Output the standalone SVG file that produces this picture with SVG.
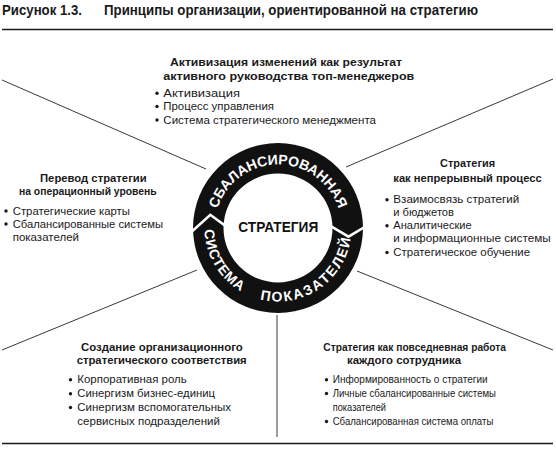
<svg xmlns="http://www.w3.org/2000/svg" xmlns:xlink="http://www.w3.org/1999/xlink" width="556" height="457" viewBox="0 0 556 457">
<style>
text{font-family:"Liberation Sans",Arial,sans-serif;fill:#1a1a1a}
.ttl{font-size:14px;font-weight:bold}
.hd{font-size:11px;font-weight:bold}
.bl{font-size:11px}
.dot{fill:#1a1a1a}
.ln{stroke:#222;stroke-width:0.9;fill:none}
.rule{stroke:#1a1a1a;stroke-width:1.3;fill:none}
.ring{fill:#111;fill-rule:evenodd}
.cut{stroke:#fff;stroke-width:2.6;fill:none;stroke-linejoin:miter}
.rt{font-size:14px;font-weight:bold;fill:#fff}
.ct{font-size:14px;font-weight:bold;fill:#111}
</style>
<defs>
<path id="arcTop" d="M 214.5 228 A 63.5 63.5 0 0 1 341.5 228"/>
<path id="arcBot" d="M 204.5 228 A 73.5 73.5 0 0 0 351.5 228"/>
</defs>
<rect width="556" height="457" fill="#fff"/>

<g id="title">
<text class="ttl" x="2" y="15" textLength="80" lengthAdjust="spacingAndGlyphs">Рисунок 1.3.</text>
<text class="ttl" x="104" y="15" textLength="374" lengthAdjust="spacingAndGlyphs">Принципы организации, ориентированной на стратегию</text>
</g>
<g id="rules">
<line class="rule" x1="2" y1="29.5" x2="553" y2="29.5"/>
<line class="rule" x1="2" y1="443.5" x2="553" y2="443.5"/>
</g>

<g id="connectors">
<line class="ln" x1="2" y1="80" x2="206" y2="169"/>
<line class="ln" x1="553" y1="79" x2="346" y2="167"/>
<line class="ln" x1="2" y1="350" x2="197" y2="270"/>
<line class="ln" x1="357" y1="271" x2="553" y2="350"/>
<line class="ln" x1="277" y1="315" x2="277" y2="437"/>
</g>

<g id="node-center">
<path class="ring" d="M 193 228 A 85 85 0 1 0 363 228 A 85 85 0 1 0 193 228 Z M 223.5 228 A 54.5 54.5 0 1 0 332.5 228 A 54.5 54.5 0 1 0 223.5 228 Z"/>
<polyline class="cut" points="190.5,232.7 210.3,214.8 226.5,226.6"/>
<polyline class="cut" points="365.5,226.5 348.5,236.7 329.5,225.3"/>
<text class="rt"><textPath xlink:href="#arcTop" href="#arcTop" startOffset="50%" text-anchor="middle">СБАЛАНСИРОВАННАЯ</textPath></text>
<text class="rt" letter-spacing="0.8"><textPath xlink:href="#arcBot" href="#arcBot" startOffset="39.5" text-anchor="middle">СИСТЕМА</textPath></text>
<text class="rt" letter-spacing="1.8"><textPath xlink:href="#arcBot" href="#arcBot" startOffset="159.4" text-anchor="middle">ПОКАЗАТЕЛЕЙ</textPath></text>
<text class="ct" x="278.3" y="232" text-anchor="middle" textLength="80" lengthAdjust="spacingAndGlyphs">СТРАТЕГИЯ</text>
</g>

<g id="node-top">
<text class="hd" x="170" y="66" textLength="232" lengthAdjust="spacingAndGlyphs">Активизация изменений как результат</text>
<text class="hd" x="163.3" y="79.5" textLength="251" lengthAdjust="spacingAndGlyphs">активного руководства топ-менеджеров</text>
<circle class="dot" cx="157" cy="93.2" r="1.7"/>
<text class="bl" x="163.3" y="96.7" textLength="76.7" lengthAdjust="spacingAndGlyphs">Активизация</text>
<circle class="dot" cx="157" cy="106.5" r="1.7"/>
<text class="bl" x="163.3" y="110" textLength="110.7" lengthAdjust="spacingAndGlyphs">Процесс управления</text>
<circle class="dot" cx="157" cy="120" r="1.7"/>
<text class="bl" x="163.3" y="123.5" textLength="212.7" lengthAdjust="spacingAndGlyphs">Система стратегического менеджмента</text>
</g>

<g id="node-left">
<text class="hd" x="40" y="181.7" textLength="106.7" lengthAdjust="spacingAndGlyphs">Перевод стратегии</text>
<text class="hd" x="19" y="195" textLength="137.7" lengthAdjust="spacingAndGlyphs">на операционный уровень</text>
<circle class="dot" cx="6" cy="211" r="1.7"/>
<text class="bl" x="12.7" y="214.5" textLength="117.3" lengthAdjust="spacingAndGlyphs">Стратегические карты</text>
<circle class="dot" cx="6" cy="224" r="1.7"/>
<text class="bl" x="12.7" y="227.5" textLength="150.3" lengthAdjust="spacingAndGlyphs">Сбалансированные системы</text>
<text class="bl" x="12.7" y="240.5" textLength="66.3" lengthAdjust="spacingAndGlyphs">показателей</text>
</g>

<g id="node-right">
<text class="hd" x="440" y="167.3" textLength="55" lengthAdjust="spacingAndGlyphs">Стратегия</text>
<text class="hd" x="393.3" y="181.7" textLength="148.4" lengthAdjust="spacingAndGlyphs">как непрерывный процесс</text>
<circle class="dot" cx="387" cy="199.8" r="1.7"/>
<text class="bl" x="393.3" y="203.3" textLength="126" lengthAdjust="spacingAndGlyphs">Взаимосвязь стратегий</text>
<text class="bl" x="393.3" y="216.3" textLength="60.7" lengthAdjust="spacingAndGlyphs">и бюджетов</text>
<circle class="dot" cx="387" cy="225.8" r="1.7"/>
<text class="bl" x="393.3" y="229.3" textLength="78.4" lengthAdjust="spacingAndGlyphs">Аналитические</text>
<text class="bl" x="393.3" y="242.3" textLength="157.4" lengthAdjust="spacingAndGlyphs">и информационные системы</text>
<circle class="dot" cx="387" cy="252.5" r="1.7"/>
<text class="bl" x="393.3" y="256" textLength="136.7" lengthAdjust="spacingAndGlyphs">Стратегическое обучение</text>
</g>

<g id="node-bottom-left">
<text class="hd" x="81" y="350.7" textLength="161.7" lengthAdjust="spacingAndGlyphs">Создание организационного</text>
<text class="hd" x="76.7" y="364" textLength="170" lengthAdjust="spacingAndGlyphs">стратегического соответствия</text>
<circle class="dot" cx="70.5" cy="379.8" r="1.7"/>
<text class="bl" x="77.3" y="383.3" textLength="109.4" lengthAdjust="spacingAndGlyphs">Корпоративная роль</text>
<circle class="dot" cx="70.5" cy="393.8" r="1.7"/>
<text class="bl" x="77.3" y="397.3" textLength="137.7" lengthAdjust="spacingAndGlyphs">Синергизм бизнес-единиц</text>
<circle class="dot" cx="70.5" cy="407.5" r="1.7"/>
<text class="bl" x="77.3" y="411" textLength="153.7" lengthAdjust="spacingAndGlyphs">Синергизм вспомогательных</text>
<text class="bl" x="77.3" y="425" textLength="142.7" lengthAdjust="spacingAndGlyphs">сервисных подразделений</text>
</g>

<g id="node-bottom-right">
<text class="hd" x="323.3" y="350.7" textLength="182.7" lengthAdjust="spacingAndGlyphs">Стратегия как повседневная работа</text>
<text class="hd" x="347" y="364" textLength="114" lengthAdjust="spacingAndGlyphs">каждого сотрудника</text>
<circle class="dot" cx="326.5" cy="379.8" r="1.7"/>
<text class="bl" x="332.7" y="383.3" textLength="155" lengthAdjust="spacingAndGlyphs">Информированность о стратегии</text>
<circle class="dot" cx="326.5" cy="393.5" r="1.7"/>
<text class="bl" x="332.7" y="397" textLength="163.3" lengthAdjust="spacingAndGlyphs">Личные сбалансированные системы</text>
<text class="bl" x="332.7" y="411" textLength="53.3" lengthAdjust="spacingAndGlyphs">показателей</text>
<circle class="dot" cx="326.5" cy="421.5" r="1.7"/>
<text class="bl" x="332.7" y="425" textLength="160.6" lengthAdjust="spacingAndGlyphs">Сбалансированная система оплаты</text>
</g>
</svg>
